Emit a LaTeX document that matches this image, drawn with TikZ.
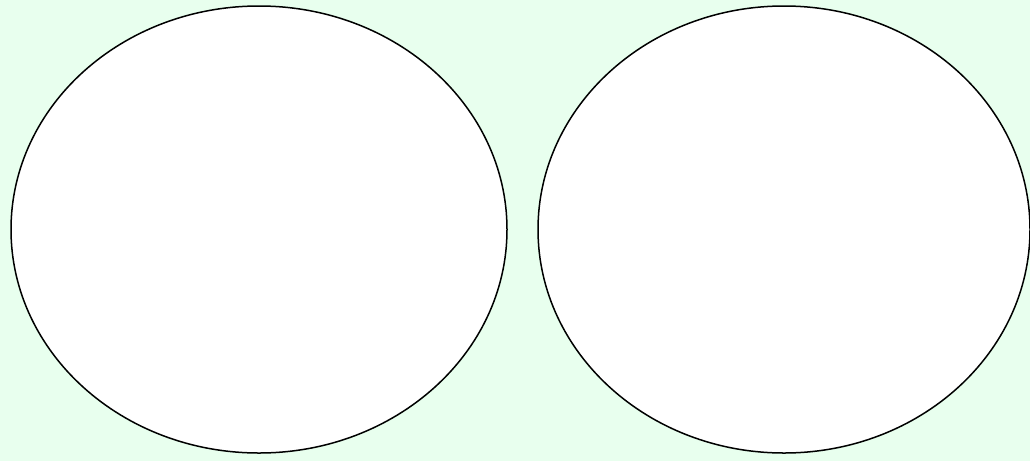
\documentclass[tikz,border=0pt]{standalone}
\usetikzlibrary{shapes.geometric}
\definecolor{bgc}{RGB}{232,255,238}
\begin{document}
\begin{tikzpicture}[x=1pt,y=-1pt,
  blob/.style={draw=black,fill=white,line width=1.5pt,ellipse,inner sep=0pt}]
\path[fill=bgc] (0,0) rectangle (1030,461);
\useasboundingbox (0,0) rectangle (1030,461);
\begin{scope}
\clip (0,0) rectangle (1030,461);
\node[blob,minimum width=496pt,minimum height=447pt] (left) at (259,229.5) {};
\node[blob,minimum width=492pt,minimum height=447pt] (right) at (784,229.5) {};
\end{scope}
\end{tikzpicture}
\end{document}
